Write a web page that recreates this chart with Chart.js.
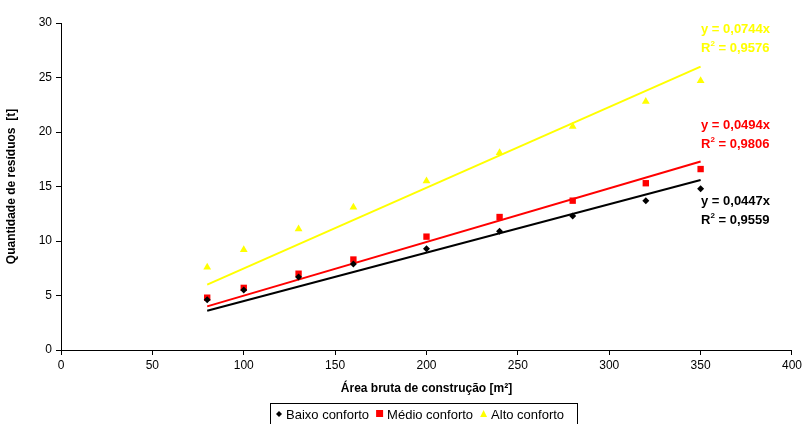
<!DOCTYPE html>
<html>
<head>
<meta charset="utf-8">
<script src="https://cdn.jsdelivr.net/npm/chart.js@4/dist/chart.umd.min.js"></script>
<style>
  html, body { margin: 0; padding: 0; background: #fff; }
  #wrap { width: 805px; height: 424px; }
</style>
</head>
<body>
<div id="wrap"><canvas id="chart"></canvas></div>
<script>
// areas [m²]
const areas = [80, 100, 130, 160, 200, 240, 280, 320, 350];

// waste quantity [t]
const baixo = [4.6, 5.5, 6.7, 7.9, 9.3, 10.9, 12.3, 13.7, 14.8];
const medio = [4.8, 5.7, 7.0, 8.3, 10.4, 12.2, 13.7, 15.3, 16.6];
const alto  = [7.6, 9.2, 11.1, 13.1, 15.5, 18.1, 20.5, 22.8, 24.7];

// trend line ends
const trendX = [80, 350];
const trendBaixo = [3.6, 15.6];
const trendMedio = [4.0, 17.3];
const trendAlto  = [6.0, 26.0];

const seriesNames = ["Baixo conforto", "Médio conforto", "Alto conforto"];
const equations = [
    ["y = 0,0447x", "0,9559"],
    ["y = 0,0494x", "0,9806"],
    ["y = 0,0744x", "0,9576"]
];

const BLACK = "#000000", RED = "#ff0000", YELLOW = "#ffff00";
const FONT = "'Liberation Sans', Arial, sans-serif";

function pts(xs, ys) {
    return xs.map((x, i) => ({ x: x, y: ys[i] }));
}

// equations next to the lines + boxed legend
const extras = {
    id: "extras",
    afterDraw(chart) {
        const ctx = chart.ctx;
        ctx.save();
        ctx.textBaseline = "alphabetic";
        const labs = [
            { c: BLACK, y: 205, e: equations[0] },
            { c: RED, y: 129, e: equations[1] },
            { c: YELLOW, y: 33, e: equations[2] }
        ];
        labs.forEach(l => {
            ctx.fillStyle = l.c;
            ctx.font = "bold 13px " + FONT;
            ctx.fillText(l.e[0], 701, l.y);
            const y2 = l.y + 19;
            ctx.fillText("R", 701, y2);
            let w = ctx.measureText("R").width;
            ctx.font = "bold 8px " + FONT;
            ctx.fillText("2", 701 + w, y2 - 6);
            w += ctx.measureText("2").width;
            ctx.font = "bold 13px " + FONT;
            ctx.fillText(" = " + l.e[1], 701 + w, y2);
        });

        // legend
        const lx = 270, ly = 403, lw = 307, lh = 22;
        ctx.strokeStyle = "#000";
        ctx.lineWidth = 1;
        ctx.strokeRect(lx + 0.5, ly + 0.5, lw, lh);
        ctx.font = "13px " + FONT;
        ctx.fillStyle = "#000";
        const ty = ly + 16;
        let x = lx + 6;
        // diamond
        ctx.beginPath();
        ctx.moveTo(x + 3, ty - 8); ctx.lineTo(x + 6, ty - 5);
        ctx.lineTo(x + 3, ty - 2); ctx.lineTo(x, ty - 5); ctx.closePath();
        ctx.fill();
        x += 10;
        ctx.fillText(seriesNames[0], x, ty);
        x += ctx.measureText(seriesNames[0]).width + 7;
        ctx.fillStyle = RED;
        ctx.fillRect(x, ty - 9, 7, 7);
        x += 11;
        ctx.fillStyle = "#000";
        ctx.fillText(seriesNames[1], x, ty);
        x += ctx.measureText(seriesNames[1]).width + 7;
        ctx.fillStyle = YELLOW;
        ctx.beginPath();
        ctx.moveTo(x + 3.5, ty - 9); ctx.lineTo(x + 7, ty - 2);
        ctx.lineTo(x, ty - 2); ctx.closePath();
        ctx.fill();
        x += 11;
        ctx.fillStyle = "#000";
        ctx.fillText(seriesNames[2], x, ty);
        ctx.restore();
    }
};

new Chart(document.getElementById("chart"), {
    type: "scatter",
    data: {
        datasets: [
            { label: "trend alto", data: pts(trendX, trendAlto), showLine: true,
              borderColor: YELLOW, borderWidth: 2, pointRadius: 0, order: 3 },
            { label: "trend medio", data: pts(trendX, trendMedio), showLine: true,
              borderColor: RED, borderWidth: 2, pointRadius: 0, order: 3 },
            { label: "trend baixo", data: pts(trendX, trendBaixo), showLine: true,
              borderColor: BLACK, borderWidth: 2, pointRadius: 0, order: 3 },
            { label: seriesNames[2], data: pts(areas, alto), pointStyle: "triangle",
              pointRadius: 4.5, backgroundColor: YELLOW, borderColor: YELLOW, borderWidth: 0, order: 2 },
            { label: seriesNames[1], data: pts(areas, medio), pointStyle: "rect",
              pointRadius: 4.5, backgroundColor: RED, borderColor: RED, borderWidth: 0, order: 1 },
            { label: seriesNames[0], data: pts(areas, baixo), pointStyle: "rectRot",
              pointRadius: 3.5, backgroundColor: BLACK, borderColor: BLACK, borderWidth: 0, order: 0 }
        ]
    },
    options: {
        responsive: true,
        maintainAspectRatio: false,
        animation: false,
        layout: { padding: { top: 23, right: 11, left: 0, bottom: 24 } },
        plugins: {
            legend: { display: false },
            tooltip: { enabled: false }
        },
        scales: {
            x: {
                type: "linear",
                min: 0, max: 400,
                ticks: { stepSize: 50, color: "#000", font: { family: FONT, size: 12 }, padding: 3 },
                grid: { drawOnChartArea: false, color: "#000", tickLength: 5 },
                border: { color: "#000", width: 1 },
                title: { display: true, text: "Área bruta de construção [m²]", color: "#000",
                         font: { family: FONT, size: 12, weight: "bold" }, padding: { top: 4 } },
                afterFit(scale) { scale.height = 50; }
            },
            y: {
                min: 0, max: 30,
                ticks: { stepSize: 5, color: "#000", font: { family: FONT, size: 12 }, padding: 4 },
                grid: { drawOnChartArea: false, color: "#000", tickLength: 5 },
                border: { color: "#000", width: 1 },
                title: { display: true, text: "Quantidade de resíduos  [t]", color: "#000",
                         font: { family: FONT, size: 12, weight: "bold" }, padding: { bottom: 6 } },
                afterFit(scale) { scale.width = 61; }
            }
        }
    },
    plugins: [extras]
});
</script>
</body>
</html>
